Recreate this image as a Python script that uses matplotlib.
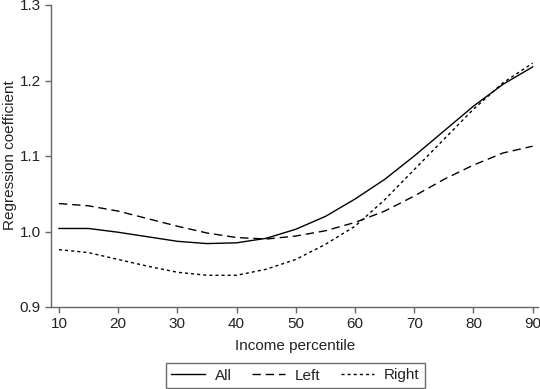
import matplotlib
matplotlib.use("Agg")
import matplotlib.pyplot as plt

percentile = [10, 15, 20, 25, 30, 35, 40, 45, 50, 55, 60, 65, 70, 75, 80, 85, 90]
all_vals = [1.004, 1.004, 0.999, 0.993, 0.987, 0.984, 0.985, 0.991, 1.003, 1.020, 1.043, 1.069, 1.100, 1.133, 1.166, 1.195, 1.218]
left_vals = [1.037, 1.034, 1.027, 1.017, 1.007, 0.998, 0.992, 0.990, 0.994, 1.001, 1.012, 1.027, 1.047, 1.069, 1.088, 1.104, 1.113]
right_vals = [0.976, 0.972, 0.963, 0.954, 0.946, 0.942, 0.942, 0.950, 0.963, 0.983, 1.007, 1.042, 1.082, 1.122, 1.162, 1.197, 1.223]

xticks = [10, 20, 30, 40, 50, 60, 70, 80, 90]
yticks = [0.9, 1.0, 1.1, 1.2, 1.3]

plt.rcParams['font.family'] = ['Liberation Sans', 'DejaVu Sans']
fig = plt.figure(figsize=(5.4, 3.89), dpi=100)
ax = fig.add_axes([51/540, 1-307/389, (538-51)/540, (307-5)/389])

ax.plot(percentile, all_vals, color='black', lw=1.0, ls='-', label='All')
ax.plot(percentile, left_vals, color='black', lw=1.0, ls=(0, (6, 3.5)), label='Left')
ax.plot(percentile, right_vals, color='black', lw=1.0, ls=(0, (2.2, 2.2)), label='Right')

ax.set_xlim(8.65, 90.9)
ax.set_ylim(0.9, 1.3)
ax.set_xticks(xticks)
ax.set_xticklabels([str(t) for t in xticks])
ax.set_yticks(yticks)
ax.set_yticklabels([f"{t:.1f}" for t in yticks])
for s in ['top', 'right']:
    ax.spines[s].set_visible(False)
for s in ['left', 'bottom']:
    ax.spines[s].set_color('#666666')
    ax.spines[s].set_linewidth(1.0)
ax.tick_params(direction='out', length=4, width=1.0, color='#666666', labelsize=11, labelcolor='#222222', pad=3.5)
ax.set_xlabel('Income percentile', fontsize=11, color='#222222')
ax.xaxis.set_label_coords((295 - 51) / 487, -(339 - 307) / 302)
ax.set_ylabel('Regression coefficient', fontsize=11, color='#222222')
ax.yaxis.set_label_coords(-(51 - 17) / 487, (307 - 155) / 302)

leg = fig.legend(loc='center', bbox_to_anchor=(295.5/540, 1-375.5/389), ncol=3, frameon=True,
                 fancybox=False, edgecolor='#444444', fontsize=11, handlelength=2.2,
                 columnspacing=1.3, handletextpad=0.65, borderpad=0.35, borderaxespad=0)
leg.get_frame().set_linewidth(1.0)
for t in leg.get_texts():
    t.set_color('#222222')

fig.savefig('out.png', dpi=100)
